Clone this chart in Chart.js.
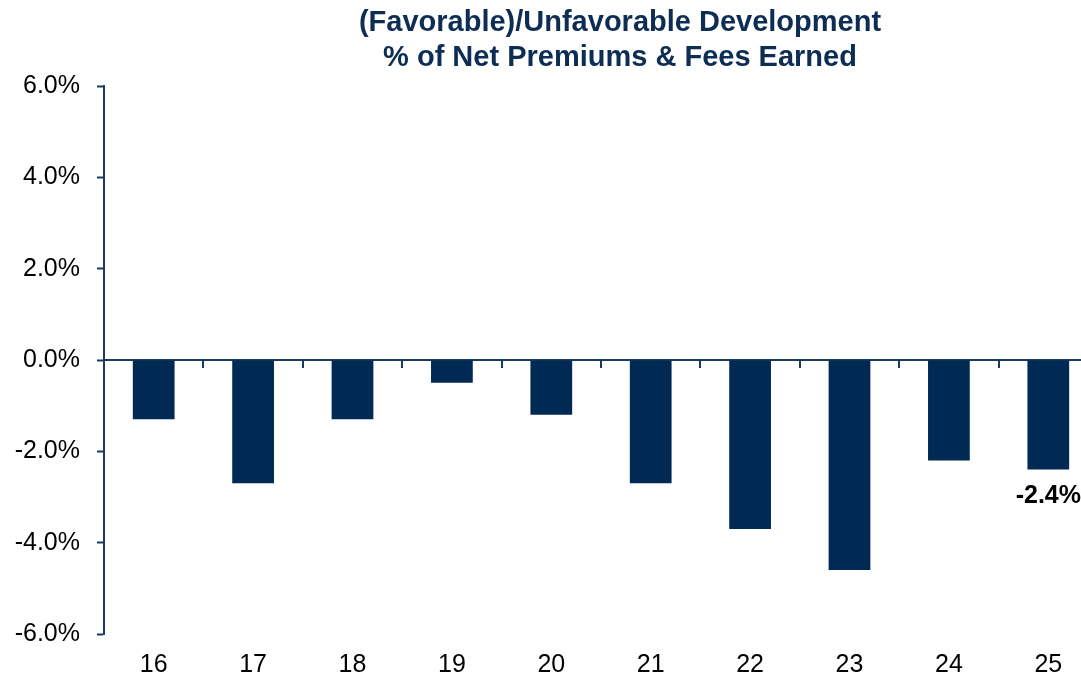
<!DOCTYPE html>
<html>
<head>
<meta charset="utf-8">
<script src="https://cdn.jsdelivr.net/npm/chart.js@4/dist/chart.umd.min.js"></script>
<style>
html,body{margin:0;padding:0;overflow:hidden;background:#fff;width:1081px;height:678px;}
canvas{display:block;}
</style>
</head>
<body>
<canvas id="c" width="1240" height="678"></canvas>
<script>
const categories = ['16','17','18','19','20','21','22','23','24','25'];
const development = [-1.3, -2.7, -1.3, -0.5, -1.2, -2.7, -3.7, -4.6, -2.2, -2.4];
const yTicks = [-6, -4, -2, 0, 2, 4, 6];
const titleLines = ['(Favorable)/Unfavorable Development', '% of Net Premiums & Fees Earned'];
const labeledBars = [9];

const NAVY = '#002a54';
const AXIS = '#1b3a60';
const FONT = 'Arial, "Liberation Sans", sans-serif';

const titlePlugin = {
  id: 'centeredTitle',
  afterDraw(chart) {
    const ctx = chart.ctx;
    ctx.save();
    ctx.font = 'bold 29px ' + FONT;
    ctx.fillStyle = '#0d2d55';
    ctx.textAlign = 'center';
    ctx.textBaseline = 'middle';
    titleLines.forEach((t, i) => ctx.fillText(t, 620, 23 + i * 35));
    ctx.restore();
  }
};

const valueLabels = {
  id: 'valueLabels',
  afterDatasetsDraw(chart) {
    const ctx = chart.ctx;
    const meta = chart.getDatasetMeta(0);
    ctx.save();
    ctx.font = 'bold 25px ' + FONT;
    ctx.fillStyle = '#000';
    ctx.textAlign = 'center';
    ctx.textBaseline = 'middle';
    labeledBars.forEach(i => {
      const el = meta.data[i];
      ctx.fillText(development[i].toFixed(1) + '%', el.x, el.y + 27);
    });
    ctx.restore();
  }
};

new Chart(document.getElementById('c'), {
  type: 'bar',
  data: {
    labels: categories,
    datasets: [{
      data: development,
      backgroundColor: NAVY,
      borderWidth: 0,
      barPercentage: 0.42,
      categoryPercentage: 1.0,
      xAxisID: 'x',
      yAxisID: 'y'
    }]
  },
  options: {
    responsive: false,
    animation: false,
    layout: { padding: { left: 0, right: 142, top: 86, bottom: 0 } },
    plugins: {
      legend: { display: false },
      tooltip: { enabled: false },
      title: { display: false }
    },
    scales: {
      y: {
        min: -6, max: 6,
        afterBuildTicks(scale) { scale.ticks = yTicks.map(v => ({ value: v })); },
        afterFit(scale) { scale.width = 104; },
        ticks: {
          color: '#000',
          padding: 17,
          font: { family: FONT, size: 25 },
          callback: v => v.toFixed(1) + '%'
        },
        grid: { drawOnChartArea: false, tickLength: 7, tickColor: AXIS, tickWidth: 2, color: AXIS },
        border: { display: true, color: AXIS, width: 2 }
      },
      x: {
        type: 'category',
        position: { y: 0 },
        offset: true,
        ticks: { display: false },
        grid: { drawOnChartArea: false, drawTicks: true, tickLength: 7, offset: true, color: AXIS, lineWidth: 2 },
        border: { display: true, color: AXIS, width: 2 }
      },
      x2: {
        type: 'category',
        position: 'bottom',
        offset: true,
        afterFit(scale) { scale.height = 44; },
        ticks: { color: '#000', padding: 16, font: { family: FONT, size: 25 } },
        grid: { display: false, drawTicks: false },
        border: { display: false }
      }
    }
  },
  plugins: [valueLabels, titlePlugin]
});
</script>
</body>
</html>
